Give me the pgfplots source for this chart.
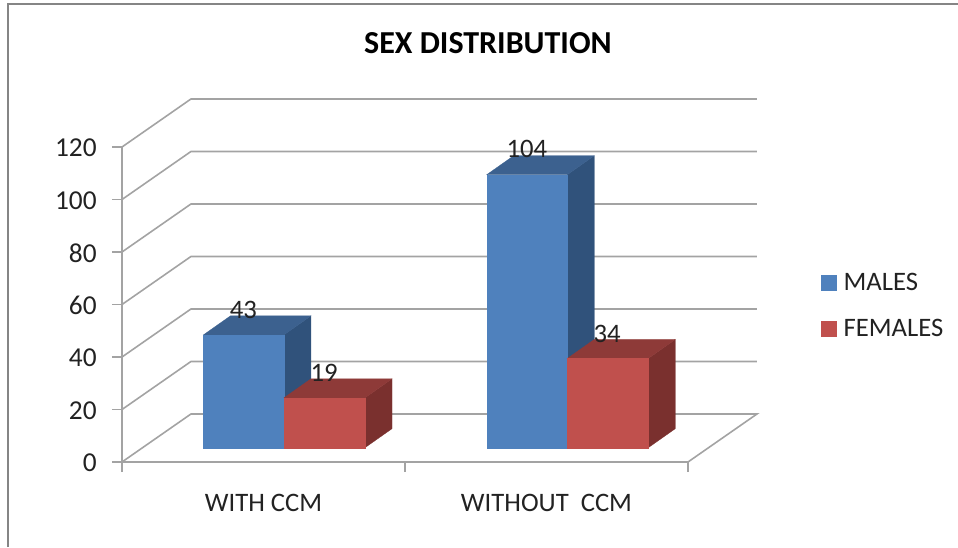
\documentclass[border=0pt]{standalone}
\usepackage{pgfplots}
\pgfplotsset{compat=1.18}
\usepackage{fontspec}
\setmainfont{Carlito}
\definecolor{blueF}{HTML}{4F81BD}
\definecolor{blueT}{HTML}{3C618F}
\definecolor{blueS}{HTML}{30527B}
\definecolor{redF}{HTML}{C0504D}
\definecolor{redT}{HTML}{8E3A38}
\definecolor{redS}{HTML}{7A302E}
\definecolor{gridc}{HTML}{A3A3A3}
\definecolor{framec}{HTML}{858585}
\definecolor{textc}{HTML}{222222}
\pgfplotsset{
  barbase/.style={y filter/.expression={y+5.45}},
  face/.style={forget plot,no marks,barbase,fill=#1,draw=#1,line width=0.2pt},
  wall/.style={forget plot,no marks,draw=gridc,line width=1.2pt},
}
\begin{document}
\begin{tikzpicture}
\path[use as bounding box] (0,0) rectangle (718.5pt,410.25pt);
\draw[framec,line width=1.5pt] (6pt,0) -- (6pt,407.25pt) -- (718.5pt,407.25pt);
\begin{axis}[
  at={(91.5pt,63.75pt)},anchor=origin,
  scale only axis,width=424.5pt,height=236.25pt,
  xmin=0,xmax=2,ymin=0,ymax=120,clip=false,
  axis lines=left,
  axis line style={-,draw=gridc,line width=1.2pt},
  tick style={draw=gridc,line width=1.2pt},
  tick align=outside,major tick length=7.5pt,
  xtick={0,1,2},xticklabels={},
  ytick={0,20,40,60,80,100,120},
  extra x ticks={0.5,1.5},
  extra x tick labels={WITH CCM,WITHOUT\ \ CCM},
  extra x tick style={major tick length=0pt,
    xticklabel style={font=\fontsize{20}{22}\selectfont,text=textc,yshift=-31pt,anchor=center}},
  yticklabel style={font=\fontsize{20.5}{22}\selectfont,text=textc,xshift=-8pt,yshift=-0.8pt},
  /pgf/number format/assume math mode=true,
  legend style={at={(axis cs:2.47,59.4)},anchor=west,draw=none,fill=none,
    font=\fontsize{20}{22}\selectfont,text=textc,row sep=16pt,inner sep=0pt,
    /tikz/every odd column/.style={column sep=3pt}},
  legend cell align=left,
  legend image code/.code={\fill[#1,draw=none] (0pt,-5.8pt) rectangle (11.8pt,5.8pt);},
]
% back walls
\addplot[wall] coordinates {(0,0) (0.2438,18.3) (2.2438,18.3) (2,0)};
\addplot[wall] coordinates {(0,20) (0.2438,38.3) (2.2438,38.3)};
\addplot[wall] coordinates {(0,40) (0.2438,58.3) (2.2438,58.3)};
\addplot[wall] coordinates {(0,60) (0.2438,78.3) (2.2438,78.3)};
\addplot[wall] coordinates {(0,80) (0.2438,98.3) (2.2438,98.3)};
\addplot[wall] coordinates {(0,100) (0.2438,118.3) (2.2438,118.3)};
\addplot[wall] coordinates {(0,120) (0.2438,138.3) (2.2438,138.3)};
% WITH CCM, MALES = 43
\addplot[face=blueS] coordinates {(0.5724,0) (0.6678,7.24) (0.6678,50.24) (0.5724,43)} -- cycle;
\addplot[face=blueT] coordinates {(0.288,43) (0.3834,50.24) (0.6678,50.24) (0.5724,43)} -- cycle;
\addplot[face=blueF] coordinates {(0.288,0) (0.5724,0) (0.5724,43) (0.288,43)} -- cycle;
% WITH CCM, FEMALES = 19
\addplot[face=redS] coordinates {(0.8587,0) (0.9541,7.24) (0.9541,26.24) (0.8587,19)} -- cycle;
\addplot[face=redT] coordinates {(0.5724,19) (0.6678,26.24) (0.9541,26.24) (0.8587,19)} -- cycle;
\addplot[face=redF] coordinates {(0.5724,0) (0.8587,0) (0.8587,19) (0.5724,19)} -- cycle;
% WITHOUT CCM, MALES = 104
\addplot[face=blueS] coordinates {(1.5735,0) (1.6689,7.24) (1.6689,111.24) (1.5735,104)} -- cycle;
\addplot[face=blueT] coordinates {(1.2887,104) (1.3841,111.24) (1.6689,111.24) (1.5735,104)} -- cycle;
\addplot[face=blueF] coordinates {(1.2887,0) (1.5735,0) (1.5735,104) (1.2887,104)} -- cycle;
% WITHOUT CCM, FEMALES = 34
\addplot[face=redS] coordinates {(1.8597,0) (1.9551,7.24) (1.9551,41.24) (1.8597,34)} -- cycle;
\addplot[face=redT] coordinates {(1.5735,34) (1.6689,41.24) (1.9551,41.24) (1.8597,34)} -- cycle;
\addplot[face=redF] coordinates {(1.5735,0) (1.8597,0) (1.8597,34) (1.5735,34)} -- cycle;
% data labels
\node[font=\fontsize{20}{22}\selectfont,text=textc] at (axis cs:0.429,57.9) {43};
\node[font=\fontsize{20}{22}\selectfont,text=textc] at (axis cs:0.714,33.9) {19};
\node[font=\fontsize{20}{22}\selectfont,text=textc] at (axis cs:1.431,119.2) {104};
\node[font=\fontsize{20}{22}\selectfont,text=textc] at (axis cs:1.714,48.8) {34};
\node[font=\fontsize{24}{26}\selectfont\bfseries,text=black] at (axis cs:1.293,159.6) {SEX DISTRIBUTION};
\addlegendimage{fill=blueF}
\addlegendentry{MALES}
\addlegendimage{fill=redF}
\addlegendentry{FEMALES}
\end{axis}
\end{tikzpicture}
\end{document}
